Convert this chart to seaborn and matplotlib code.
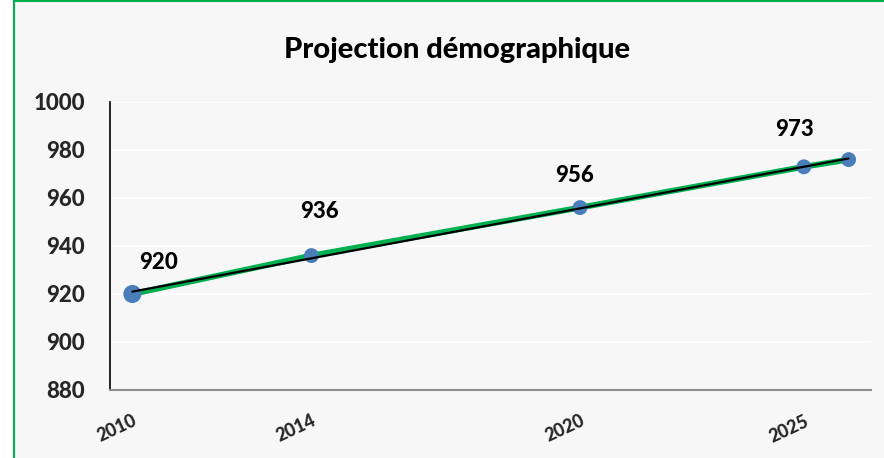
import numpy as np
import pandas as pd
import seaborn as sns
import matplotlib.pyplot as plt
from matplotlib.patches import Rectangle

sns.set_theme(style="white")
plt.rcParams['font.family'] = ['Lato', 'DejaVu Sans']
plt.rcParams['font.weight'] = 'black'

# data
years = [2010, 2014, 2020, 2025, 2026]
population = [920, 936, 956, 973, 976]
labelled = [2010, 2014, 2020, 2025]
tick_years = [2010, 2014, 2020, 2025]
yticks = [880, 900, 920, 940, 960, 980, 1000]
marker_sizes = [170, 115, 115, 115, 115]

df = pd.DataFrame({'year': years, 'pop': population, 'ms': marker_sizes})

bg = '#F7F7F7'
fig = plt.figure(figsize=(8.84, 4.58), dpi=100, facecolor='white')
frame = Rectangle((14 / 884, -0.05), 1.1, 1.05 - 1 / 458, transform=fig.transFigure,
                  facecolor=bg, edgecolor='#00B050', linewidth=1.5, zorder=-10)
fig.patches.append(frame)
ax = fig.add_axes([110 / 884, 68 / 458, 761 / 884, 288 / 458])
ax.set_facecolor(bg)

sns.lineplot(data=df, x='year', y='pop', color='#00B050', linewidth=4.2, ax=ax, zorder=2)
sns.scatterplot(data=df, x='year', y='pop', size='ms', sizes=(115, 170), color='#4A7EBB',
                linewidth=0, legend=False, ax=ax, zorder=3)
sns.regplot(data=df, x='year', y='pop', scatter=False, ci=None, truncate=True,
            line_kws={'color': 'black', 'linewidth': 1.6, 'zorder': 4}, ax=ax)

offsets = {2010: (19, 23), 2014: (6, 32), 2020: (-4, 23), 2025: (-7, 27)}
for y, p in zip(years, population):
    if y in labelled:
        ax.annotate(str(p), (y, p), xytext=offsets[y], textcoords='offset points',
                    ha='center', va='center', fontsize=16, fontweight='black', color='black')

ax.set_xlim(2009.5, 2026.5)
ax.set_ylim(880, 1000)
ax.set_yticks(yticks)
ax.set_yticklabels([str(t) for t in yticks], fontsize=16, fontweight='black')
ax.set_xticks(tick_years)
ax.set_xticklabels([str(t) for t in tick_years], rotation=25, ha='right', rotation_mode='anchor',
                   fontsize=13, fontweight='black')
ax.tick_params(axis='y', length=0, pad=18)
ax.tick_params(axis='x', length=0, pad=16)
ax.grid(axis='y', color='white', linewidth=1.2)
ax.set_axisbelow(True)
ax.set_xlabel('')
ax.set_ylabel('')
for s in ['top', 'right']:
    ax.spines[s].set_visible(False)
ax.spines['left'].set_color('black')
ax.spines['left'].set_linewidth(1.2)
ax.spines['bottom'].set_color('#8C8C8C')
ax.spines['bottom'].set_linewidth(1.5)

fig.text(457 / 884, (458 - 50) / 458, 'Projection démographique', ha='center', va='center',
         fontsize=21, fontweight='black', color='black')

fig.savefig('out.png', dpi=100, facecolor=fig.get_facecolor())
